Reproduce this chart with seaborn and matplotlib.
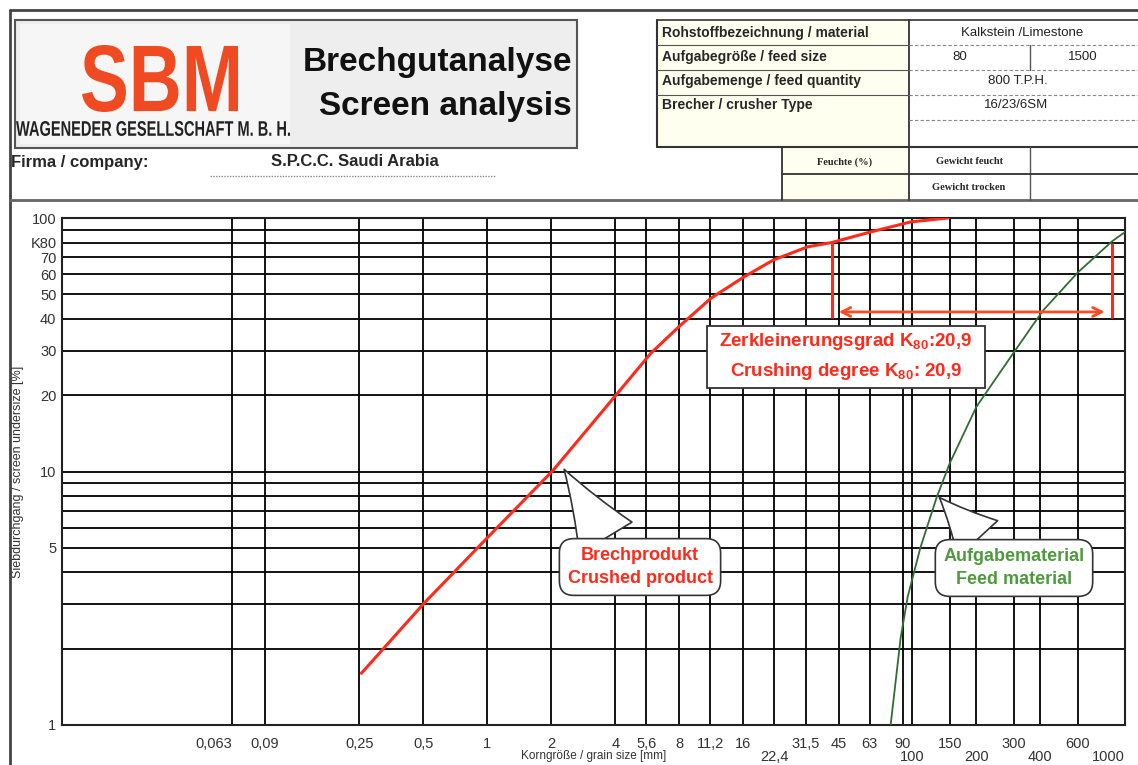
import matplotlib
matplotlib.use("Agg")
import matplotlib.pyplot as plt
import seaborn as sns
from matplotlib.patches import Rectangle, PathPatch
from matplotlib.lines import Line2D
from matplotlib.textpath import TextPath
from matplotlib.font_manager import FontProperties
from matplotlib.transforms import Affine2D

W, H = 1138, 765

# Brechprodukt / crushed product: grain size [mm] vs. passing [%]
product_size = [0.256, 0.506, 1.01, 2.04, 4.03, 5.89, 7.96, 11.3, 16.1, 22.2, 32.2, 41.7, 63.3, 98.1, 147]
product_pass = [1.60, 3.03, 5.52, 10.1, 20.0, 29.3, 37.2, 48.3, 58.5, 68.3, 77.0, 80.0, 88.0, 96.5, 100]

# Aufgabematerial / feed material
feed_size = [79, 88, 95, 109, 130, 150, 200, 300, 410, 600, 870, 1000]
feed_pass = [1, 2.2, 3.2, 5.0, 7.9, 10.8, 18, 29.5, 43, 61, 81, 88]

# K80 markers
k80_level = 80
k80_product = 41.7
k80_feed = 872
marker_low = 40.3
arrow_level = 42.6

# grid lines / tick labels (upper row on the grid, lower row below it)
x_ticks = [0.063, 0.09, 0.25, 0.5, 1, 2, 4, 5.6, 8, 11.2, 16, 22.4, 31.5, 45, 63, 90,
           100, 150, 200, 300, 400, 600, 1000]
x_labels = ["0,063", "0,09", "0,25", "0,5", "1", "2", "4", "5,6", "8", "11,2", "16", "",
            "31,5", "45", "63", "90", "", "150", "", "300", "", "600", ""]
x_low_ticks = [22.4, 100, 200, 400, 1000]
x_low_labels = ["22,4", "100", "200", "400", "1000"]
y_ticks = [1, 2, 3, 4, 5, 6, 7, 8, 9, 10, 20, 30, 40, 50, 60, 70, 80, 90, 100]
y_labels = ["1", "", "", "", "5", "", "", "", "", "10", "20", "30", "40", "50", "60", "70",
            "K80", "", "100"]

RED = "#ff2a1a"
GREEN = "#2f6e2f"

sns.set_style("white")
plt.rcParams["font.family"] = ["Liberation Sans", "DejaVu Sans"]
plt.rcParams["mathtext.fontset"] = "custom"
plt.rcParams["mathtext.rm"] = "Liberation Sans:bold"
plt.rcParams["mathtext.default"] = "rm"

fig = plt.figure(figsize=(W / 100, H / 100), dpi=100)
fig.patch.set_facecolor("white")


def px(x, y):
    return x / W, 1 - y / H


def rect(x0, y0, x1, y1, **kw):
    fig.add_artist(Rectangle(px(x0, y1), (x1 - x0) / W, (y1 - y0) / H,
                             transform=fig.transFigure, **kw))


def line(x0, y0, x1, y1, **kw):
    fig.add_artist(Line2D([x0 / W, x1 / W], [1 - y0 / H, 1 - y1 / H],
                          transform=fig.transFigure, **kw))


def fitted_text(s, x0, y0, x1, y1, color):
    tp = TextPath((0, 0), s, size=1, prop=FontProperties(family="Liberation Sans", weight="bold"))
    bb = tp.get_extents()
    tr = (Affine2D().translate(-bb.x0, -bb.y0)
          .scale((x1 - x0) / W / bb.width, (y1 - y0) / H / bb.height)
          .translate(x0 / W, 1 - y1 / H) + fig.transFigure)
    fig.add_artist(PathPatch(tp, transform=tr, fc=color, ec="none"))


# ---- header ----
line(10, 10, W, 10, color="#444444", lw=2)
line(10, 10, 10, H, color="#444444", lw=2)
line(10, 200, W, 200, color="#666666", lw=2)

rect(15, 20, 577, 148, fc="#eeeeee", ec="#555555", lw=1.5)
rect(20, 24, 290, 144, fc="#f6f6f6", ec="none")
fitted_text("SBM", 82, 45, 238, 112, "#f04a22")
fitted_text("WAGENEDER GESELLSCHAFT M. B. H.", 16, 121, 290, 136, "#222222")
fig.text(*px(572, 63), "Brechgutanalyse", ha="right", va="center", fontsize=24,
         fontweight="bold", color="#111111")
fig.text(*px(572, 106), "Screen analysis", ha="right", va="center", fontsize=24,
         fontweight="bold", color="#111111")

fig.text(*px(11, 162), "Firma / company:", ha="left", va="center", fontsize=12, fontweight="bold")
fig.text(*px(355, 162), "S.P.C.C. Saudi Arabia", ha="center", va="center", fontsize=12, fontweight="bold")
line(210, 176, 495, 176, color="#888888", lw=1, ls=(0, (1, 1)))

# right info table
rect(657, 20, 909, 147, fc="#fffff0", ec="none")
rect(782, 147, 909, 200, fc="#fffff0", ec="none")
line(657, 20, 657, 147, color="#333333", lw=1.5)
line(657, 20, W, 20, color="#333333", lw=1.2)
line(657, 147, W, 147, color="#333333", lw=1.5)
line(909, 20, 909, 200, color="#333333", lw=1.3)
line(1030, 45, 1030, 70, color="#555555", lw=1)
line(782, 147, 782, 200, color="#333333", lw=1.3)
line(1030, 147, 1030, 200, color="#555555", lw=1)
line(782, 174, W, 174, color="#333333", lw=1.3)
for yy in (45, 70, 95):
    line(657, yy, 909, yy, color="#555555", lw=0.8)
for yy in (45, 70, 95, 120):
    line(909, yy, W, yy, color="#888888", lw=0.8, ls=(0, (3, 2)))

labels = ["Rohstoffbezeichnung / material", "Aufgabegröße / feed size",
          "Aufgabemenge / feed quantity", "Brecher / crusher Type"]
for i, lab in enumerate(labels):
    fig.text(*px(662, 33 + 24 * i), lab, ha="left", va="center", fontsize=10, fontweight="bold")
fig.text(*px(1022, 33), "Kalkstein /Limestone", ha="center", va="center", fontsize=9.5, color="#222222")
fig.text(*px(960, 57), "80", ha="center", va="center", fontsize=9.5, color="#222222")
fig.text(*px(1083, 57), "1500", ha="center", va="center", fontsize=9.5, color="#222222")
fig.text(*px(1018, 81), "800 T.P.H.", ha="center", va="center", fontsize=9.5, color="#222222")
fig.text(*px(1016, 105), "16/23/6SM", ha="center", va="center", fontsize=9.5, color="#222222")
fig.text(*px(845, 162), "Feuchte (%)", ha="center", va="center", fontsize=7.5,
         fontweight="bold", family="Liberation Serif")
fig.text(*px(969, 162), "Gewicht feucht", ha="center", va="center", fontsize=7.5,
         fontweight="bold", family="Liberation Serif")
fig.text(*px(969, 187), "Gewicht trocken", ha="center", va="center", fontsize=7.5,
         fontweight="bold", family="Liberation Serif")

# ---- chart ----
ax = fig.add_axes([62 / W, 1 - 725 / H, (1125 - 62) / W, (725 - 218) / H])
ax.set_xscale("log")
ax.set_yscale("log")

sns.lineplot(x=product_size, y=product_pass, estimator=None, sort=False,
             color=RED, lw=2.2, ax=ax, zorder=3)
sns.lineplot(x=feed_size, y=feed_pass, estimator=None, sort=False,
             color=GREEN, lw=1.3, ax=ax, zorder=3)

ax.set_xlim(0.01, 1000)
ax.set_ylim(1, 100)
ax.set_xticks(x_ticks, labels=x_labels)
ax.set_yticks(y_ticks, labels=y_labels)
ax.get_xticklabels()[0].set_ha("right")
ax.minorticks_off()
ax.set_axisbelow(True)
ax.grid(True, which="major", color="black", lw=1.3)
ax.tick_params(length=0, labelsize=10.5, labelcolor="#333333")
ax.tick_params(axis="x", pad=9)
ax.tick_params(axis="y", pad=4)
for sp in ax.spines.values():
    sp.set_color("#222222")
    sp.set_linewidth(1.5)

xtr = ax.get_xaxis_transform()
for xv, lab in zip(x_low_ticks, x_low_labels):
    ax.text(xv, -0.063, lab, transform=xtr, ha="right" if xv == x_low_ticks[-1] else "center",
            va="center", fontsize=10.5, color="#333333")

ax.set_xlabel("Korngröße / grain size [mm]", fontsize=8.5, color="#333333")
ax.xaxis.set_label_coords(0.5, -0.049)
ax.set_ylabel("Siebdurchgang / screen undersize [%]", fontsize=9, color="#333333")
ax.yaxis.set_label_coords(-0.036, 0.5)

# K80 markers and crushing degree arrow
ax.vlines([k80_product, k80_feed], marker_low, k80_level, color=RED, lw=2.2, zorder=4)
ax.annotate("", xy=(k80_product * 1.08, arrow_level), xytext=(k80_feed * 0.92, arrow_level),
            arrowprops=dict(arrowstyle="<->", color="#ff4a22", lw=2, mutation_scale=16,
                            shrinkA=0, shrinkB=0), zorder=4)

ax.add_patch(Rectangle(((707 - 62) / 1063, (725 - 388) / 507), 278 / 1063, 62 / 507,
                       transform=ax.transAxes, fc="white", ec="#333333", lw=1.3, zorder=5))
ax.text((846 - 62) / 1063, (725 - 342) / 507, r"Zerkleinerungsgrad K$_{80}$:20,9",
        transform=ax.transAxes, ha="center", va="center", color=RED, fontsize=13.5,
        fontweight="bold", zorder=6)
ax.text((846 - 62) / 1063, (725 - 372) / 507, r"Crushing degree K$_{80}$: 20,9",
        transform=ax.transAxes, ha="center", va="center", color=RED, fontsize=13.5,
        fontweight="bold", zorder=6)

# callouts
ax.annotate("Brechprodukt\nCrushed product", xy=(2.3, 10.2),
            xytext=((640 - 62) / 1063, (725 - 567) / 507), textcoords="axes fraction",
            ha="center", va="center", color=RED, fontsize=13, fontweight="bold",
            linespacing=1.5, zorder=6,
            bbox=dict(boxstyle="round,pad=0.45,rounding_size=0.8", fc="white", ec="#333333", lw=1.2),
            arrowprops=dict(arrowstyle="wedge,tail_width=3.4,shrink_factor=0.45", fc="white",
                            ec="#333333", lw=1.2, relpos=(0.3, 1.0), shrinkA=0, shrinkB=0))
ax.annotate("Aufgabematerial\nFeed material", xy=(134, 7.9),
            xytext=((1014 - 62) / 1063, (725 - 568) / 507), textcoords="axes fraction",
            ha="center", va="center", color="#4e9a3e", fontsize=13, fontweight="bold",
            linespacing=1.5, zorder=6,
            bbox=dict(boxstyle="round,pad=0.45,rounding_size=0.8", fc="white", ec="#333333", lw=1.2),
            arrowprops=dict(arrowstyle="wedge,tail_width=3.0,shrink_factor=0.45", fc="white",
                            ec="#333333", lw=1.2, relpos=(0.3, 1.0), shrinkA=0, shrinkB=0))

plt.savefig("out.png", dpi=100)
